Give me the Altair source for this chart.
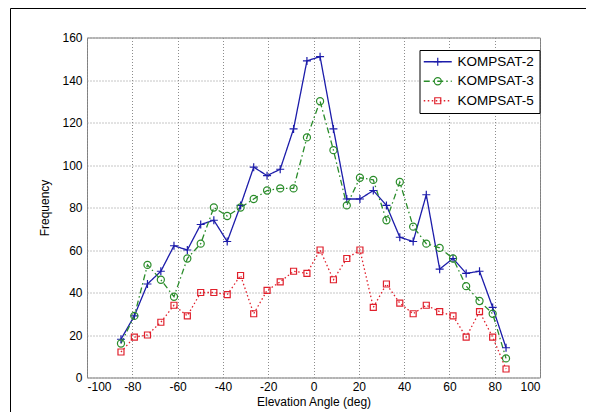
import altair as alt
import pandas as pd

# Elevation angle bins (deg)
angles = [-85.0, -79.1, -73.3, -67.4, -61.6, -55.7, -49.8, -44.0, -38.1, -32.2,
          -26.4, -20.5, -14.7, -8.8, -2.9, 2.9, 8.8, 14.7, 20.5, 26.4,
          32.2, 38.1, 44.0, 49.8, 55.7, 61.6, 67.4, 73.3, 79.1, 85.0]
kompsat2 = [18, 29, 44, 50, 62, 60, 72, 74, 64, 81, 99, 95, 98, 117, 149,
            151, 117, 84, 84, 88, 81, 66, 64, 86, 51, 56, 49, 50, 33, 14]
kompsat3 = [16, 29, 53, 46, 38, 56, 63, 80, 76, 80, 84, 88, 89, 89, 113,
            130, 107, 81, 94, 93, 74, 92, 71, 63, 61, 56, 43, 36, 30, 9]
kompsat5 = [12, 19, 20, 26, 34, 29, 40, 40, 39, 48, 30, 41, 45, 50, 49,
            60, 46, 56, 60, 33, 44, 35, 30, 34, 31, 29, 19, 31, 19, 4]

series = ["KOMPSAT-2", "KOMPSAT-3", "KOMPSAT-5"]
marker_keys = ["m2", "m3", "m5"]
colors = ["#1c1caa", "#2a8c2a", "#e0202c"]
dashes = [[1, 0], [6, 3, 1.5, 3], [1.5, 2.5]]
shapes = ["M-1,0H1M0,-1V1", "circle", "square"]
sizes = [64, 36, 49]
x_ticks = [-100, -80, -60, -40, -20, 0, 20, 40, 60, 80, 100]
y_ticks = [0, 20, 40, 60, 80, 100, 120, 140, 160]

rows = []
for name, key, vals in zip(series, marker_keys, [kompsat2, kompsat3, kompsat5]):
    for a, v in zip(angles, vals):
        rows.append({"angle": a, "freq": v, "series": name, "series_m": key})
df = pd.DataFrame(rows)

FONT = "Liberation Sans"
LX, LY = 332.5, 12.5

x = alt.X("angle:Q", scale=alt.Scale(domain=[-100, 100], nice=False, zero=False),
          axis=alt.Axis(values=x_ticks, title="Elevation Angle (deg)",
                        labelExpr="'' + datum.value",
                        labelPadding=4, titlePadding=4))
y = alt.Y("freq:Q", scale=alt.Scale(domain=[0, 160], nice=False),
          axis=alt.Axis(values=y_ticks, title="Frequency",
                        labelPadding=5, titlePadding=10))

line_legend = alt.Legend(orient="none", legendX=LX, legendY=LY, title=None,
                         strokeColor="black", fillColor="white", padding=5,
                         symbolType="M-3.5,0H3.5", symbolSize=64, symbolStrokeWidth=1.3,
                         symbolOffset=6.5,
                         labelFontSize=13.5, labelFont=FONT, labelColor="black",
                         rowPadding=4.5, labelOffset=13)
point_legend = alt.Legend(orient="none", legendX=LX, legendY=LY, title=None,
                          padding=5, labelFontSize=13.5, labelFont=FONT,
                          labelExpr="' '", rowPadding=4.5, labelOffset=13,
                          symbolStrokeWidth=1.2, symbolOffset=6.5)

base = alt.Chart(df)

lines = base.mark_line(strokeWidth=1.3).encode(
    x=x, y=y,
    color=alt.Color("series:N", scale=alt.Scale(domain=series, range=colors),
                    legend=line_legend),
    strokeDash=alt.StrokeDash("series:N", scale=alt.Scale(domain=series, range=dashes),
                              legend=line_legend),
)

points = base.mark_point(filled=False, strokeWidth=1.2, opacity=1).encode(
    x=x, y=y,
    stroke=alt.Stroke("series_m:N", scale=alt.Scale(domain=marker_keys, range=colors),
                      legend=point_legend),
    shape=alt.Shape("series_m:N", scale=alt.Scale(domain=marker_keys, range=shapes),
                    legend=point_legend),
    size=alt.Size("series_m:N", scale=alt.Scale(domain=marker_keys, range=sizes),
                  legend=point_legend),
)

frame_data = alt.Data(values=[{"k": 0}])
frame_left = alt.Chart(frame_data).mark_rule(color="black", strokeWidth=1).encode(
    x=alt.value(-76.5), y=alt.value(-29), y2=alt.value(400))
frame_top = alt.Chart(frame_data).mark_rule(color="black", strokeWidth=1).encode(
    x=alt.value(-76.5), x2=alt.value(520), y=alt.value(-29))

chart = alt.layer(frame_left, frame_top, lines, points).properties(
    width=453, height=340,
    background="white",
    autosize=alt.AutoSizeParams(type="none"),
    padding={"left": 79, "top": 29.5, "right": 46, "bottom": 34},
).configure_view(
    stroke="#808080", strokeWidth=1
).configure_axis(
    labelFont=FONT, labelFontSize=12, labelColor="black",
    titleFont=FONT, titleFontSize=12, titleFontWeight="normal", titleColor="black",
    grid=True, gridDash=[1, 2], gridColor="#8c8c8c", gridOpacity=1, gridWidth=1,
    domain=False, ticks=False,
)

chart.save("out.html", embed_options={"renderer": "svg", "actions": False})
